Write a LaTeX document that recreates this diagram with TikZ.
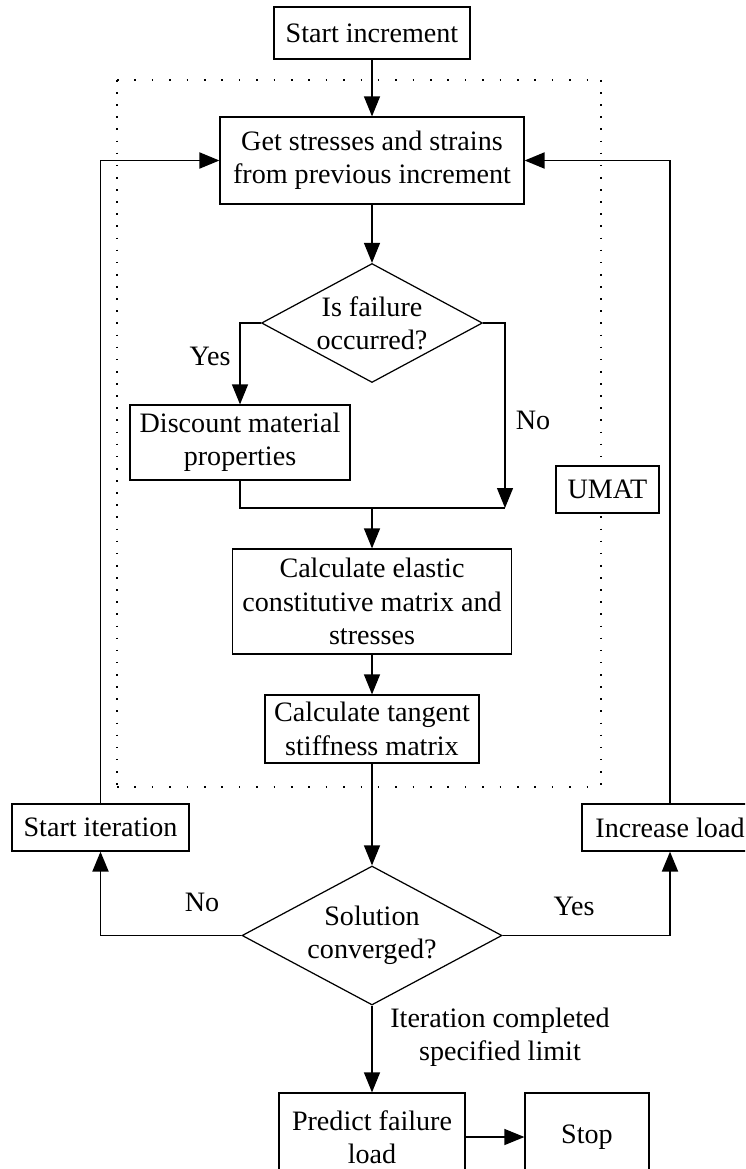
\documentclass[tikz,border=0pt]{standalone}
\usepackage{fontspec}
\setmainfont{Liberation Serif}
\usetikzlibrary{arrows.meta,shapes.geometric}
\tikzset{
  basebox/.style={draw,line width=0.7pt,fill=white,align=center,inner sep=2pt,font=\fontsize{16}{19}\selectfont},
  decision/.style={basebox,diamond,aspect=1.87,inner sep=0pt},
  lbl/.style={font=\fontsize{16}{19}\selectfont,align=center},
  arrow/.style={-{Triangle[length=0.4cm,width=0.32cm]},line width=0.7pt},
  loopline/.style={arrow,line width=1.1pt},
  hdots/.style={line width=0.9pt,dash pattern=on 0.9pt off 9pt},
  vdots/.style={line width=0.9pt,dash pattern=on 0.9pt off 6pt}
}

\begin{document}
\begin{tikzpicture}[x=0.02cm,y=-0.02cm]
  \clip (0,0) rectangle (745,1169);
  \fill[white] (0,0) rectangle (745,1169);
  \draw[hdots] (117,80) -- (601,80) (117,787) -- (601,787);
  \draw[vdots] (117,80) -- (117,787) (601,80) -- (601,787);

  \node[basebox,minimum width=3.92cm,minimum height=1.04cm] (start) at (372,33) {Start increment};
  \node[basebox,minimum width=6.08cm,minimum height=1.74cm] (get) at (372,160.5) {Get stresses and strains\\from previous increment};
  \node[decision,minimum width=4.42cm,minimum height=2.38cm] (fail) at (372,323) {Is failure\\occurred?};
  \node[basebox,minimum width=4.4cm,minimum height=1.5cm] (discount) at (240,442.5) {Discount material\\properties};
  \coordinate (join) at (372,508);
  \coordinate (rjoin) at (505,508);
  \node[basebox,minimum width=2.06cm,minimum height=0.94cm] (umat) at (607.5,489.5) {UMAT};
  \node[basebox,minimum width=5.58cm,minimum height=2.1cm] (elastic) at (372,601.5) {Calculate elastic\\constitutive matrix and\\stresses};
  \node[basebox,minimum width=4.28cm,minimum height=1.36cm] (tangent) at (372,729) {Calculate tangent\\stiffness matrix};
  \node[basebox,minimum width=3.54cm,minimum height=0.94cm] (startit) at (100.5,827.5) {Start iteration};
  \node[basebox,minimum width=3.52cm,minimum height=0.94cm] (incload) at (670,827.5) {Increase load};
  \node[decision,minimum width=5.2cm,minimum height=2.78cm] (conv) at (372,935.5) {Solution\\converged?};
  \node[basebox,minimum width=3.72cm,minimum height=1.76cm] (predict) at (372,1137) {Predict failure\\load};
  \node[basebox,minimum width=2.48cm,minimum height=1.76cm] (stop) at (587,1137) {Stop};

  \node[lbl] (yes1) at (210,356) {Yes};
  \node[lbl] (no1) at (533,420) {No};
  \node[lbl] (no2) at (202,902) {No};
  \node[lbl] (yes2) at (574,906) {Yes};
  \node[lbl] (limit) at (500,1037) {Iteration completed\\specified limit};

  \draw[arrow] (start) -- (get);
  \draw[arrow] (get) -- (fail);
  \draw[arrow] (fail.west) -| (discount.north);
  \draw[arrow] (fail.east) -| (rjoin);
  \draw[line width=0.7pt] (discount.south) |- (rjoin);
  \draw[arrow] (join) -- (elastic);
  \draw[arrow] (elastic) -- (tangent);
  \draw[arrow] (tangent) -- (conv);
  \draw[loopline] (conv.west) -| (startit.south);
  \draw[loopline] (conv.east) -| (incload.south);
  \draw[loopline] (startit.north) |- (get.west);
  \draw[loopline] (incload.north) |- (get.east);
  \draw[arrow] (conv.south) -- (predict.north);
  \draw[arrow] (predict) -- (stop);
\end{tikzpicture}
\end{document}
